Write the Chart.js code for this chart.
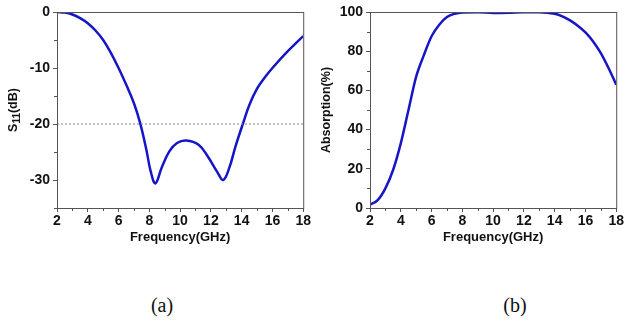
<!DOCTYPE html>
<html>
<head>
<meta charset="utf-8">
<script src="https://cdn.jsdelivr.net/npm/chart.js@4/dist/chart.umd.min.js"></script>
<style>
    html, body { margin: 0; padding: 0; background: #fff; }
    body { width: 625px; height: 325px; position: relative; overflow: hidden; }
    .box { position: absolute; top: 0; height: 250px; }
    .cap {
        position: absolute; top: 294px; width: 60px; text-align: center;
        font-family: "Liberation Serif", "Times New Roman", serif; font-size: 20px; color: #111;
    }
</style>
</head>
<body>
<div class="box" style="left:0;width:312px"><canvas id="chartA"></canvas></div>
<div class="box" style="left:312px;width:313px"><canvas id="chartB"></canvas></div>
<div class="cap" style="left:132px">(a)</div>
<div class="cap" style="left:485px">(b)</div>
<script>
// frequency in GHz
const freqS11 = [2, 2.5, 3, 3.5, 4, 4.5, 5, 5.5, 6, 6.5, 7, 7.4, 7.8, 8.1, 8.4, 8.8, 9.3, 9.8, 10.4, 11.2, 11.8, 12.4, 12.8, 13.2, 13.6, 14.1, 14.5, 15, 15.5, 16, 17, 18];
const s11Values = [0, -0.1, -0.45, -1.1, -2.0, -3.3, -5.0, -7.3, -10.0, -13.0, -16.3, -19.8, -24.5, -28.6, -30.6, -27.8, -24.9, -23.4, -22.95, -23.7, -25.8, -28.5, -30, -27.8, -24.0, -19.8, -16.6, -13.7, -11.7, -10.0, -7.0, -4.3];
const freqAbs = [2, 2.5, 3, 3.5, 4, 4.5, 5, 5.5, 6, 6.5, 7, 7.5, 8, 9, 10, 11, 12, 13, 14, 14.5, 15, 15.5, 16, 16.5, 17, 17.5, 18];
const absValues = [1.7, 4, 10, 19.4, 33, 50, 67, 78, 87.6, 93.5, 97.4, 99.1, 99.8, 99.9, 99.5, 99.6, 99.9, 99.9, 99.1, 97.8, 95.7, 93, 89.6, 85, 79, 71.4, 62.9];
const refLevel = -20;

const xTicks = [2, 4, 6, 8, 10, 12, 14, 16, 18];
const xMinor = [3, 5, 7, 9, 11, 13, 15, 17];
const yTicksA = [-30, -20, -10, 0];
const yMinorA = [-35, -25, -15, -5];
const yTicksB = [0, 20, 40, 60, 80, 100];
const yMinorB = [10, 30, 50, 70, 90];

const frameColor = "#555";
const lineColor = "#1616c8";
const fontFam = "'Liberation Sans', Arial, sans-serif";
const tickFont = { family: fontFam, size: 14, weight: "bold" };
const titleFont = { family: fontFam, size: 13, weight: "bold" };
const yTitleFont = { family: fontFam, size: 12.5, weight: "bold" };

// box around plot, short minor ticks, optional S11 title with subscript
const framePlugin = {
    id: "frame",
    afterDraw(chart, args, opts) {
        const { ctx, chartArea: a, scales } = chart;
        ctx.save();
        ctx.strokeStyle = frameColor;
        ctx.lineWidth = 1;
        ctx.strokeRect(a.left + 0.5, a.top + 0.5, a.right - a.left, a.bottom - a.top);
        ctx.beginPath();
        opts.xMinor.forEach(v => {
            const px = Math.round(scales.x.getPixelForValue(v)) + 0.5;
            ctx.moveTo(px, a.bottom);
            ctx.lineTo(px, a.bottom + 3);
        });
        opts.yMinor.forEach(v => {
            const py = Math.round(scales.y.getPixelForValue(v)) + 0.5;
            ctx.moveTo(a.left, py);
            ctx.lineTo(a.left - 3, py);
        });
        ctx.stroke();
        if (opts.subTitle) {
            const parts = opts.subTitle;
            const big = "bold 12.5px " + fontFam;
            const small = "bold 10px " + fontFam;
            ctx.fillStyle = "#111";
            ctx.textBaseline = "alphabetic";
            ctx.font = big;
            const w0 = ctx.measureText(parts[0]).width;
            const w2 = ctx.measureText(parts[2]).width;
            ctx.font = small;
            const w1 = ctx.measureText(parts[1]).width;
            const total = w0 + w1 + w2;
            ctx.translate(17, (a.top + a.bottom) / 2);
            ctx.rotate(-Math.PI / 2);
            let x = -total / 2;
            ctx.font = big;
            ctx.fillText(parts[0], x, 0);
            x += w0;
            ctx.font = small;
            ctx.fillText(parts[1], x, 3);
            x += w1;
            ctx.font = big;
            ctx.fillText(parts[2], x, 0);
        }
        ctx.restore();
    },
};

function makeChart(id, series, smooth, yMin, yMax, yTicks, yMinor, yTitle, subTitle, leftWidth, extra) {
    const datasets = [Object.assign({
        data: series,
        borderColor: lineColor,
        borderWidth: 2.5,
        pointRadius: 0,
    }, smooth)];
    if (extra) datasets.unshift(extra);
    return new Chart(document.getElementById(id), {
        type: "line",
        data: { datasets },
        options: {
            responsive: true,
            maintainAspectRatio: false,
            animation: false,
            layout: { padding: { top: 12, right: 7, bottom: 0, left: 0 } },
            plugins: {
                legend: { display: false },
                tooltip: { enabled: false },
                frame: { xMinor, yMinor, subTitle },
            },
            scales: {
                x: {
                    type: "linear",
                    min: 2,
                    max: 18,
                    afterBuildTicks: s => { s.ticks = xTicks.map(v => ({ value: v })); },
                    afterFit: s => { s.height = 42; },
                    grid: { drawOnChartArea: false, tickLength: 4, color: frameColor },
                    border: { color: frameColor },
                    ticks: { color: "#111", font: tickFont, padding: 1, maxRotation: 0 },
                    title: { display: true, text: "Frequency(GHz)", color: "#111", font: titleFont, padding: { top: 0, bottom: 5 } },
                },
                y: {
                    type: "linear",
                    min: yMin,
                    max: yMax,
                    afterBuildTicks: s => { s.ticks = yTicks.map(v => ({ value: v })); },
                    afterFit: s => { s.width = leftWidth; },
                    grid: { drawOnChartArea: false, tickLength: 4, color: frameColor },
                    border: { color: frameColor },
                    ticks: { color: "#111", font: tickFont, padding: 3 },
                    title: { display: !!yTitle, text: yTitle, color: "#111", font: yTitleFont, padding: { top: 7, bottom: 0 } },
                },
            },
        },
        plugins: [framePlugin],
    });
}

const refLine = {
    data: [{ x: 2, y: refLevel }, { x: 18, y: refLevel }],
    borderColor: "#888",
    borderWidth: 1,
    borderDash: [2, 2],
    pointRadius: 0,
};

makeChart("chartA", freqS11.map((f, i) => ({ x: f, y: s11Values[i] })), { tension: 0.4 },
    -35, 0, yTicksA, yMinorA, "", ["S", "11", "(dB)"], 57, refLine);
makeChart("chartB", freqAbs.map((f, i) => ({ x: f, y: absValues[i] })), { cubicInterpolationMode: "monotone" },
    0, 100, yTicksB, yMinorB, "Absorption(%)", null, 58, null);
</script>
</body>
</html>
